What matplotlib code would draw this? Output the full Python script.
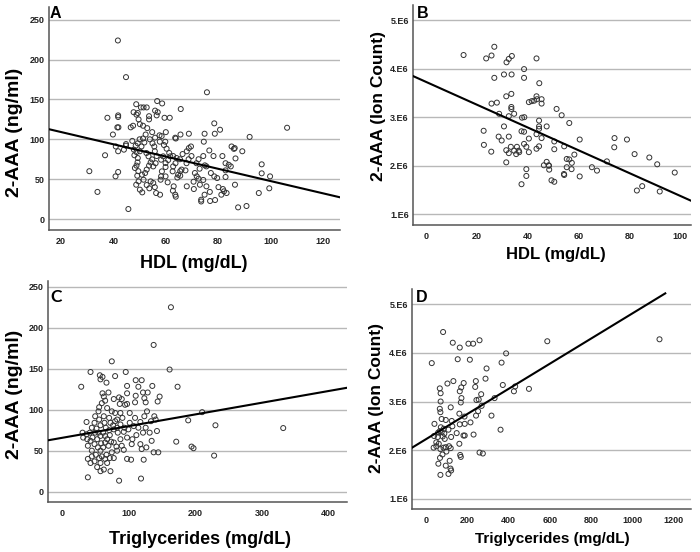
import numpy as np
import matplotlib
matplotlib.use("Agg")
import matplotlib.pyplot as plt
from matplotlib.ticker import FuncFormatter

plt.rcParams['font.family'] = ['Liberation Sans', 'DejaVu Sans']
plt.rcParams['font.weight'] = 'bold'

# --- panel A: HDL vs 2-AAA (ng/ml)
hdl_a = [41.7, 44.8, 75.7, 106.3, 30.8, 33.9, 45.7, 36.8, 37.7, 39.8,
         41.8, 41.8, 41.5, 41.9, 40.9, 40.8, 41.8, 41.8, 44.0, 44.8,
         44.8, 46.6, 47.7, 48.7, 48.8, 47.5, 49.3, 50.5, 51.5, 52.7,
         49.6, 50.1, 51.3, 53.6, 53.6, 52.9, 52.3, 54.8, 55.9, 56.7,
         56.9, 56.5, 58.6, 59.5, 61.5, 65.7, 65.6, 60.0, 55.9, 57.6,
         58.4, 59.8, 63.6, 63.8, 68.8, 74.8, 74.5, 76.6, 78.5, 80.7,
         78.7, 85.1, 86.3, 86.0, 89.2, 92.0, 78.2, 81.6, 82.8, 84.0,
         82.8, 84.8, 86.6, 86.4, 96.6, 96.6, 99.8, 99.5, 95.5, 90.8,
         87.6, 78.8, 76.9, 73.5, 73.5, 74.8, 76.8, 80.1, 81.8, 82.2,
         83.2, 81.2, 79.6, 78.5, 82.8, 77.2, 74.9, 72.9, 71.1, 71.8,
         72.5, 70.6, 70.7, 68.0, 67.5, 67.9, 68.7, 69.6, 68.8, 69.8,
         72.5, 71.7, 68.0, 66.4, 65.4, 66.0, 65.5, 64.7, 64.4, 65.5,
         62.6, 62.8, 63.7, 64.1, 61.7, 61.3, 60.3, 59.3, 57.7, 60.9,
         62.8, 59.0, 58.2, 59.9, 59.9, 58.5, 58.2, 58.0, 59.9, 60.7,
         63.0, 62.7, 63.6, 63.8, 56.3, 57.8, 55.8, 55.2, 54.2, 53.7,
         52.7, 51.5, 51.0, 50.1, 49.6, 49.1, 48.7, 48.2, 48.8, 49.2,
         49.3, 48.0, 47.8, 48.8, 50.1, 50.7, 51.8, 52.6, 53.4, 54.8,
         54.2, 53.6, 55.2, 56.1, 56.5, 55.8, 55.6, 54.9, 53.9, 51.3,
         50.0, 49.3, 48.5, 47.2, 52.7, 52.1, 50.9, 49.5, 73.0, 74.3,
         75.5, 74.3, 75.5]
aaa_a = [224, 178, 159, 114.5, 60, 34, 12.5, 80, 127, 106,
         130, 128, 115, 115, 91, 53.5, 59, 85, 87, 92,
         94, 115, 134, 144, 131, 117, 133, 140, 140, 140,
         125, 119, 117, 129, 125, 114, 106, 109, 136, 148,
         134, 130, 145, 127, 127, 138, 106, 109, 102, 105,
         104, 97, 102, 101, 107, 107, 97, 86, 120, 112,
         107, 91, 89, 88, 85, 103, 79, 79, 70, 68,
         61, 66, 76, 43, 68.6, 57.3, 53.5, 38.5, 32.6, 16.3,
         14.6, 23.8, 22.6, 24.2, 22, 30.5, 34, 40, 37.6, 34.7,
         32.6, 30.5, 51.4, 53.5, 52.7, 57.7, 67.3, 63.1, 57.7, 53.5,
         50.6, 46.8, 37.6, 41, 61, 70, 75, 91, 89, 79,
         75, 70, 85, 81.5, 75, 62, 60, 55.6, 52, 54.3,
         59.8, 66, 70, 76.5, 78.6, 82.8, 88.2, 92.8, 97, 74,
         79, 78.6, 74.4, 70.2, 65.2, 59.8, 53.5, 49.3, 53.5, 46,
         41, 35.5, 30.5, 28, 32.6, 30.5, 40, 45.2, 47.2, 38.5,
         42.6, 49.3, 33.4, 36.8, 47.2, 54.3, 43, 64, 67, 71,
         76.5, 80, 87, 84, 85, 91, 96, 82.8, 78.6, 74.8,
         71, 67, 66, 70, 79, 85, 91, 95, 100, 101,
         100, 95, 92, 98, 62, 57.7, 55.6, 60, 43, 49,
         41, 79, 66]
fit_a = [124.5, -0.769]  # intercept, slope

# --- panel B: HDL vs 2-AAA ion count (millions)
hdl_b = [14.7, 23.6, 25.7, 26.8, 31.6, 32.5, 33.7, 43.4, 26.8, 30.6,
         33.6, 38.5, 38.5, 44.5, 33.5, 31.5, 25.7, 27.8, 33.5, 33.5,
         40.4, 41.5, 42.5, 43.4, 43.6, 45.4, 45.4, 51.3, 53.3, 28.7,
         32.5, 34.6, 37.7, 38.6, 44.4, 44.4, 44.4, 47.4, 56.3, 30.6,
         22.6, 37.5, 38.5, 43.4, 28.5, 29.7, 32.5, 40.4, 45.4, 50.4,
         60.4, 74.1, 79.0, 22.7, 25.6, 31.5, 32.5, 33.3, 34.6, 35.7,
         35.4, 36.4, 36.6, 38.5, 39.4, 40.4, 43.4, 44.4, 50.4, 54.3,
         74.0, 82.0, 87.8, 90.9, 97.8, 71.1, 65.2, 67.2, 60.4, 55.3,
         56.3, 57.3, 58.3, 55.3, 57.2, 46.3, 47.4, 48.2, 48.3, 48.4,
         54.2, 54.3, 49.3, 50.4, 39.4, 39.4, 37.5, 31.5, 82.9, 85.0,
         91.9]
ion_b = [4.28, 4.21, 4.27, 4.45, 4.13, 4.20, 4.26, 4.21, 3.81, 3.88,
         3.88, 3.99, 3.81, 3.70, 3.48, 3.43, 3.28, 3.30, 3.21, 3.17,
         3.31, 3.33, 3.34, 3.43, 3.37, 3.37, 3.28, 3.17, 3.04, 3.07,
         3.02, 3.07, 2.99, 3.00, 2.93, 2.81, 2.76, 2.81, 2.88, 2.81,
         2.72, 2.71, 2.70, 2.65, 2.60, 2.52, 2.60, 2.56, 2.57, 2.50,
         2.54, 2.57, 2.54, 2.43, 2.29, 2.32, 2.26, 2.39, 2.31, 2.39,
         2.24, 2.31, 2.28, 2.45, 2.39, 2.28, 2.35, 2.40, 2.34, 2.40,
         2.38, 2.24, 2.17, 2.03, 1.86, 2.09, 1.97, 1.90, 1.78, 2.14,
         2.13, 2.06, 2.23, 1.97, 1.93, 2.01, 2.08, 2.01, 2.00, 1.92,
         1.83, 1.81, 1.70, 1.67, 1.93, 1.79, 1.62, 2.07, 1.49, 1.58,
         1.47]
fit_b = [3.725e6, -23465.0]

# --- panel C: triglycerides vs 2-AAA (ng/ml)
trig_c = [163, 137, 74, 161, 173, 210, 189, 230, 332, 171,
          194, 197, 228, 42, 28, 36, 36, 38, 85, 118,
          38, 42, 95, 79, 56, 60, 57, 66, 97, 110,
          119, 114, 135, 121, 128, 123, 125, 146, 143, 97,
          60, 62, 59, 55, 89, 86, 94, 97, 110, 109,
          79, 87, 70, 72, 79, 90, 101, 109, 117, 123,
          138, 140, 142, 133, 125, 131, 121, 111, 105, 117,
          126, 137, 144, 134, 119, 122, 97, 103, 92, 89,
          87, 83, 77, 99, 101, 62, 55, 49, 48, 44,
          41, 51, 54, 57, 61, 64, 67, 71, 73, 77,
          81, 69, 64, 61, 57, 53, 48, 42, 38, 44,
          50, 55, 59, 64, 67, 57, 52, 57, 62, 72,
          48, 44, 66, 71, 74, 77, 82, 37, 45, 49,
          52, 58, 65, 70, 76, 82, 87, 93, 82, 74,
          67, 63, 57, 54, 64, 69, 77, 85, 92, 97,
          104, 127, 114, 107, 30, 31]
aaa_c = [225, 179, 159, 149, 128, 97, 87, 81, 77.6, 61,
         55, 53, 44, 146, 128, 85, 70, 17.5, 13.4, 16,
         40, 35, 146, 141, 142, 140, 137, 133, 129, 136,
         136, 128, 129, 121, 121, 114, 109, 116, 110, 120,
         120, 116, 108, 103, 113, 107, 106, 107, 117, 109,
         96, 96, 90, 84, 86, 90, 96, 90, 85, 92,
         92, 88, 74, 86, 78, 72, 72, 69, 64, 58,
         54, 48, 48, 62, 52, 39, 40, 39, 51, 56,
         64, 72, 76, 76, 84, 92, 88, 92, 84, 78,
         72, 77, 72, 68, 72, 68, 64, 69, 61, 60,
         55, 56, 60, 54, 50, 54, 58, 62, 56, 50,
         45, 41, 43, 40, 35, 35, 30, 25, 27, 25,
         37, 43, 45, 41, 48, 41, 50, 64, 66, 72,
         64, 59, 78, 75, 81, 78, 82, 78, 88, 98,
         102, 84, 81, 98, 111, 121, 113, 115, 73, 66,
         58, 98, 78, 80, 72, 66]
fit_c = [65.8, 0.1424]

# --- panel D: triglycerides vs 2-AAA ion count (millions)
trig_d = [81, 128, 162, 204, 227, 258, 587, 26, 152, 211,
          292, 387, 365, 102, 131, 181, 169, 162, 240, 237,
          287, 371, 431, 425, 498, 65, 69, 69, 65, 68,
          118, 170, 167, 243, 254, 266, 331, 268, 251, 241,
          160, 185, 316, 360, 74, 94, 123, 39, 70, 84,
          107, 126, 65, 74, 87, 37, 55, 79, 120, 147,
          162, 186, 214, 180, 186, 229, 89, 160, 35, 48,
          60, 68, 83, 94, 110, 118, 97, 78, 66, 58,
          94, 113, 117, 120, 107, 68, 164, 167, 258, 274,
          57, 48, 1132]
ion_d = [4.43, 4.21, 4.11, 4.19, 4.19, 4.26, 4.24, 3.79, 3.87, 3.86,
         3.68, 3.99, 3.80, 3.37, 3.42, 3.38, 3.29, 3.21, 3.42, 3.30,
         3.47, 3.34, 3.31, 3.21, 3.26, 3.27, 3.17, 3.00, 2.85, 2.78,
         2.88, 3.07, 2.98, 3.03, 3.04, 3.15, 3.07, 2.91, 2.80, 2.71,
         2.75, 2.69, 2.71, 2.42, 2.64, 2.62, 2.60, 2.54, 2.47, 2.44,
         2.42, 2.49, 2.39, 2.37, 2.34, 2.29, 2.27, 2.28, 2.27, 2.35,
         2.53, 2.54, 2.57, 2.30, 2.30, 2.32, 2.23, 2.13, 2.05, 2.08,
         2.13, 2.02, 2.05, 2.06, 2.08, 2.04, 1.97, 1.91, 1.84, 1.72,
         1.68, 1.78, 1.62, 1.58, 1.51, 1.49, 1.90, 1.86, 1.95, 1.93,
         2.36, 2.16, 4.28]
fit_d = [2.23e6, 2582.0]
fit_d_end = 1160  # fit line in D stops short of the axis edge

W, H = 700, 552
fig = plt.figure(figsize=(W / 100, H / 100), dpi=100)


def box(l, t, r, b):
    # pixel box -> figure fraction
    return [l / W, 1 - b / H, (r - l) / W, (b - t) / H]


def ftext(px, py, s, **kw):
    fig.text(px / W, 1 - py / H, s, ha='center', va='center', **kw)


def panel(rect, x, y, fit, xlim, ylim, xticks, yticks, letter, letter_xy,
          ion=False, letter_font=None, letter_size=11.5, fit_end=None):
    ax = fig.add_axes(box(*rect))
    ax.set_xlim(xlim)
    ax.set_ylim(ylim)
    ax.set_xticks(xticks)
    ax.set_yticks(yticks)
    if ion:
        ax.yaxis.set_major_formatter(FuncFormatter(lambda v, p: f"{int(round(v / 1e6))}.E6"))
    ax.yaxis.grid(True, color='#b8b8b8', lw=1.0)
    ax.set_axisbelow(True)
    for s in ['top', 'right']:
        ax.spines[s].set_visible(False)
    for s in ['left', 'bottom']:
        ax.spines[s].set_color('#555555')
        ax.spines[s].set_linewidth(1.1)
    ax.tick_params(length=0, labelsize=6.5, colors='#222222')
    ax.tick_params(axis='y', pad=3)
    ax.tick_params(axis='x', pad=5)
    ax.scatter(x, y, s=13, facecolors='none', edgecolors='#333333', linewidths=0.7, zorder=3)
    xs = np.array([xlim[0], xlim[1] if fit_end is None else fit_end])
    ax.plot(xs, fit[0] + fit[1] * xs, color='black', lw=1.5, zorder=4)
    kw = {}
    if letter_font:
        kw['family'] = letter_font
    fig.text(letter_xy[0] / W, 1 - letter_xy[1] / H, letter, fontsize=letter_size,
             fontweight='bold', ha='left', va='top', **kw)
    return ax


panel((49, 7, 340, 230), hdl_a, aaa_a, fit_a, (15.4, 126.5), (-13.8, 266),
      range(20, 121, 20), range(0, 251, 50), 'A', (50, 6))
panel((413, 5, 691, 225), hdl_b, np.array(ion_b) * 1e6, fit_b, (-5.2, 104.2), (0.78e6, 5.31e6),
      range(0, 101, 20), [1e6, 2e6, 3e6, 4e6, 5e6], 'B', (417, 6), ion=True)
panel((48, 281, 347, 502), trig_c, aaa_c, fit_c, (-22, 428), (-12.6, 257),
      range(0, 401, 100), range(0, 251, 50), 'C', (50, 289), letter_font='Lato', letter_size=12.5)
panel((412, 289, 691, 509), trig_d, np.array(ion_d) * 1e6, fit_d, (-70, 1285), (0.788e6, 5.315e6),
      range(0, 1201, 200), [1e6, 2e6, 3e6, 4e6, 5e6], 'D', (416, 290), ion=True, fit_end=fit_d_end)

# axis titles
ftext(15, 132, '2-AAA (ng/ml)', fontsize=14, rotation=90)
ftext(194, 263, 'HDL (mg/dL)', fontsize=13)
ftext(378, 106, '2-AAA (Ion Count)', fontsize=12.5, rotation=90)
ftext(556, 255, 'HDL (mg/dL)', fontsize=12)
ftext(15, 394, '2-AAA (ng/ml)', fontsize=14, rotation=90)
ftext(200, 539, 'Triglycerides (mg/dL)', fontsize=13)
ftext(377, 398, '2-AAA (Ion Count)', fontsize=12.5, rotation=90)
ftext(552, 539, 'Triglycerides (mg/dL)', fontsize=11)

fig.savefig('out.png', dpi=100, facecolor='white')
